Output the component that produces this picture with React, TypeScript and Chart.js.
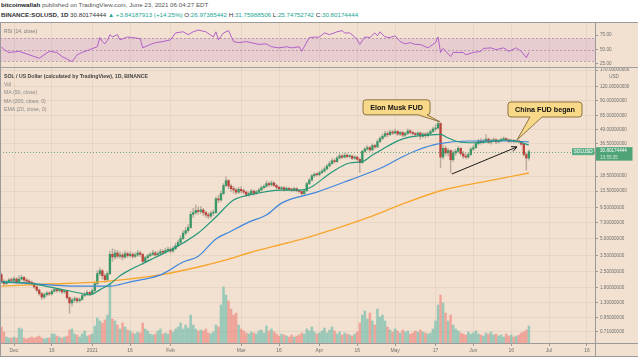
import React, { useEffect, useRef } from "react";
import { Chart, registerables } from "chart.js";
Chart.register(...registerables);

// ---------------- data ----------------
// day index relative to 1 Dec 2020 (first candle = 26 Nov 2020)
const firstDay = -5;
const firstOpen = 2.35;

const closes = [
  2.05, 1.95, 2.02, 2.10, 2.08, 2.15, 2.02, 2.14, 2.22, 2.10,
  2.05, 2.00, 1.95, 1.82, 1.70, 1.58, 1.47, 1.55, 1.60, 1.57,
  1.66, 1.72, 1.68, 1.70, 1.64, 1.66, 1.45, 1.30, 1.38, 1.42,
  1.36, 1.40, 1.52, 1.56, 1.62, 1.58, 1.68, 1.95, 2.40, 2.55,
  2.30, 2.12, 2.40, 3.60, 3.40, 3.70, 3.45, 3.55, 3.40, 3.65,
  3.50, 3.60, 3.45, 3.55, 3.70, 3.60, 3.10, 3.35, 3.50, 3.60,
  3.70, 3.55, 3.65, 3.80, 3.75, 3.90, 4.00, 3.85, 4.05, 4.30,
  4.60, 5.00, 5.60, 5.90, 6.30, 8.30, 8.60, 9.00, 8.80, 9.10,
  8.60, 8.20, 8.00, 8.50, 8.60, 11.50, 11.20, 12.80, 15.20, 16.80,
  15.00, 14.20, 13.80, 13.20, 14.00, 13.60, 13.20, 12.60, 12.80, 13.50,
  12.90, 13.30, 13.80, 14.50, 14.90, 15.80, 15.40, 16.00, 15.20, 14.60,
  14.20, 14.50, 13.90, 14.30, 14.00, 13.80, 14.20, 13.60, 13.40, 12.80,
  13.60, 15.80, 17.00, 18.60, 19.20, 19.00, 19.80, 20.50, 21.50, 22.80,
  24.00, 25.50, 25.00, 27.00, 28.20, 27.40, 28.60, 27.80, 28.00, 26.80,
  27.50, 26.20, 24.50, 31.00, 32.50, 33.50, 32.00, 35.00, 34.00, 38.00,
  40.50, 42.50, 45.00, 44.00, 46.50, 45.50, 47.00, 44.50, 46.00, 43.50,
  45.00, 47.50, 46.00, 45.00, 44.00, 45.50, 42.50, 44.50, 43.00, 45.00,
  47.00, 49.50, 50.50, 55.50, 27.50, 33.00, 30.00, 31.50, 26.00, 30.00,
  31.00, 33.00, 29.50, 28.00, 27.50, 29.00, 32.50, 33.50, 36.50, 38.50,
  37.50, 38.50, 40.00, 37.50, 38.80, 39.50, 37.80, 38.60, 39.80, 40.50,
  39.50, 38.20, 39.00, 38.00, 38.60, 37.80, 36.00, 29.00, 26.96, 30.80174444,
];

const highs = [
  2.42, 2.12, 2.08, 2.18, 2.20, 2.25, 2.20, 2.30, 2.32, 2.26,
  2.16, 2.12, 2.06, 2.00, 1.86, 1.74, 1.62, 1.60, 1.66, 1.64,
  1.72, 1.78, 1.76, 1.75, 1.73, 1.70, 1.68, 1.48, 1.44, 1.48,
  1.46, 1.45, 1.56, 1.62, 1.68, 1.66, 1.74, 2.02, 2.55, 2.70,
  2.62, 2.40, 2.50, 3.85, 4.05, 3.95, 3.90, 3.80, 3.70, 3.85,
  3.78, 3.80, 3.72, 3.70, 3.90, 3.85, 3.65, 3.45, 3.62, 3.75,
  3.90, 3.85, 3.80, 4.00, 3.95, 4.10, 4.20, 4.15, 4.25, 4.55,
  4.85, 5.30, 5.90, 6.30, 6.70, 8.80, 9.40, 10.10, 9.70, 9.80,
  9.40, 8.90, 8.60, 8.90, 9.10, 12.00, 12.40, 13.50, 15.80, 18.20,
  17.20, 15.60, 14.90, 14.40, 14.60, 14.80, 14.10, 13.60, 13.30, 14.00,
  13.80, 13.70, 14.30, 15.00, 15.40, 16.60, 16.40, 16.70, 16.40, 15.60,
  15.00, 14.90, 14.80, 14.70, 14.60, 14.40, 14.60, 14.50, 13.90, 13.60,
  14.00, 16.20, 17.60, 19.20, 19.80, 19.80, 20.40, 21.30, 22.40, 23.60,
  25.20, 26.60, 26.50, 28.00, 29.50, 29.00, 29.80, 29.40, 28.90, 28.60,
  28.40, 28.00, 26.80, 31.80, 33.80, 35.00, 34.40, 36.20, 36.00, 39.50,
  42.00, 44.50, 47.50, 47.00, 48.50, 48.00, 49.50, 48.00, 47.50, 47.00,
  46.50, 49.50, 49.00, 47.50, 46.20, 47.00, 46.50, 45.80, 46.00, 46.50,
  48.50, 51.50, 54.00, 58.50, 56.50, 35.50, 34.50, 33.00, 32.00, 31.50,
  32.50, 34.50, 33.50, 31.00, 29.50, 30.00, 33.50, 35.00, 37.80, 40.00,
  40.50, 40.00, 44.00, 41.00, 40.00, 41.00, 40.50, 39.80, 41.00, 42.00,
  41.20, 40.20, 40.00, 39.80, 39.50, 39.20, 38.50, 36.50, 29.80, 31.75988506,
];

const lows = [
  1.98, 1.88, 1.90, 1.97, 2.00, 2.02, 1.95, 1.98, 2.08, 2.02,
  1.98, 1.94, 1.88, 1.76, 1.64, 1.52, 1.40, 1.42, 1.50, 1.52,
  1.54, 1.62, 1.62, 1.63, 1.58, 1.59, 1.40, 1.05, 1.22, 1.32,
  1.30, 1.32, 1.38, 1.48, 1.52, 1.53, 1.55, 1.64, 1.90, 2.30,
  2.15, 2.00, 2.05, 2.35, 3.10, 3.25, 3.30, 3.30, 3.20, 3.30,
  3.35, 3.40, 3.30, 3.35, 3.45, 3.45, 2.90, 3.00, 3.25, 3.40,
  3.50, 3.45, 3.45, 3.55, 3.60, 3.65, 3.80, 3.70, 3.75, 3.95,
  4.20, 4.45, 4.90, 5.40, 5.70, 6.20, 7.80, 8.30, 8.30, 8.40,
  8.10, 7.80, 7.60, 7.70, 8.10, 8.50, 10.60, 10.90, 12.50, 14.80,
  14.20, 13.40, 12.90, 12.60, 12.80, 13.00, 12.70, 12.10, 12.10, 12.50,
  12.40, 12.60, 13.00, 13.50, 14.10, 14.60, 14.90, 15.00, 14.80, 14.20,
  13.70, 13.80, 13.50, 13.60, 13.60, 13.40, 13.50, 13.30, 13.00, 12.40,
  12.50, 13.40, 15.40, 16.60, 18.00, 18.40, 18.60, 19.40, 20.10, 21.00,
  22.40, 23.60, 24.20, 24.60, 26.40, 26.60, 27.00, 27.00, 27.00, 26.00,
  26.20, 25.60, 20.00, 24.00, 30.20, 31.60, 30.80, 31.40, 33.00, 33.50,
  37.20, 39.50, 41.60, 42.00, 43.00, 44.00, 44.50, 43.20, 43.00, 42.00,
  42.40, 44.20, 44.50, 43.60, 42.00, 42.80, 40.00, 41.50, 41.00, 42.00,
  44.00, 46.00, 47.50, 49.50, 22.00, 26.50, 28.50, 28.00, 19.80, 25.00,
  28.50, 30.00, 28.50, 26.80, 26.50, 26.80, 28.50, 31.50, 33.00, 35.50,
  36.00, 36.50, 37.50, 36.50, 36.00, 37.80, 36.50, 36.80, 37.80, 38.80,
  38.50, 37.20, 37.50, 37.00, 37.20, 36.80, 35.20, 28.00, 21.00, 25.74752742,
];

const volumes = [
  16, 11, 6, 5, 5, 6, 5, 15, 14, 5,
  4, 5, 6, 5, 6, 7, 5, 4, 5, 5,
  9, 9, 7, 6, 5, 6, 7, 13, 14, 9,
  8, 6, 9, 12, 7, 8, 9, 17, 25, 22,
  20, 23, 28, 60, 24, 22, 18, 14, 20, 16,
  13, 12, 10, 9, 11, 10, 20, 14, 12, 9,
  8, 9, 12, 14, 9, 10, 9, 13, 11, 14,
  16, 20, 14, 18, 15, 28, 18, 14, 12, 13,
  12, 14, 10, 9, 11, 18, 16, 38, 56, 48,
  42, 34, 28, 30, 18, 14, 12, 10, 9, 11,
  10, 9, 12, 13, 10, 17, 12, 14, 11, 9,
  7, 9, 8, 7, 6, 8, 6, 7, 8, 10,
  9, 14, 12, 16, 11, 9, 10, 12, 15, 10,
  13, 16, 12, 9, 11, 8, 10, 9, 8, 7,
  9, 11, 20, 28, 32, 24, 30, 22, 18, 34,
  26, 28, 22, 16, 13, 11, 14, 12, 10, 13,
  11, 12, 9, 10, 12, 11, 13, 11, 10, 9,
  10, 14, 22, 38, 48, 40, 30, 22, 28, 18,
  14, 12, 10, 9, 8, 11, 9, 10, 12, 9,
  8, 7, 10, 9, 11, 8, 9, 7, 8, 6,
  9, 7, 8, 6, 7, 8, 10, 11, 13, 17,
];

const ema20Days = [-5, 6, 14, 26, 30, 34, 38, 42, 46, 54, 62, 67, 73, 80, 87, 93, 106, 113, 117, 126, 133, 138, 142, 146, 152, 157, 164, 169, 172, 176, 182, 188, 195, 200, 204];
const ema20Values = [2.02, 1.97, 1.82, 1.60, 1.54, 1.71, 1.93, 2.30, 2.60, 3.20, 3.94, 4.56, 5.61, 7.86, 11.2, 12.4, 13.8, 13.8, 14.4, 20.1, 24.3, 25.0, 28.7, 32.4, 38.6, 41.9, 43.6, 44.2, 41.0, 37.9, 37.1, 37.9, 39.3, 37.9, 35.4];

const ma50Days = [-5, 10, 22, 38, 46, 58, 67, 73, 80, 85, 93, 100, 106, 120, 133, 146, 153, 160, 168, 180, 195, 204];
const ma50Values = [2.02, 1.93, 1.85, 1.85, 2.02, 2.34, 3.06, 3.46, 4.96, 5.68, 7.05, 8.19, 10.5, 13.2, 17.0, 22.2, 27.0, 31.9, 36.2, 38.5, 38.5, 37.8];

const ma200Days = [-5, 14, 34, 46, 58, 73, 84, 93, 105, 113, 126, 141, 153, 170, 188, 204];
const ma200Values = [1.85, 1.93, 2.02, 2.15, 2.34, 2.76, 3.20, 3.70, 4.37, 4.86, 5.99, 7.86, 10.1, 13.8, 16.7, 19.7];

const rsiDays = [-5, -4, -2, 2, 6, 10, 14, 17, 19, 23, 25, 27, 30, 33, 34, 35, 36, 37, 38, 39, 41, 42, 45, 47, 50, 51, 54, 56, 59, 62, 64, 67, 69, 71, 73, 76, 79, 80, 81, 83, 85, 87, 89, 92, 94, 97, 100, 102, 105, 108, 110, 113, 114, 117, 121, 123, 125, 128, 130, 131, 133, 135, 136, 137, 139, 141, 143, 144, 145, 147, 149, 151, 153, 155, 157, 159, 161, 164, 166, 167, 168, 169, 170, 173, 174, 176, 178, 179, 182, 185, 186, 189, 191, 194, 196, 199, 201, 203, 204];
const rsiValues = [55, 50, 45, 47, 41, 35, 47, 45, 38, 29, 41, 45, 50, 55, 71, 64, 60, 66, 76, 72, 76, 67, 72, 71, 69, 53, 59, 62, 64, 67, 79, 81, 76, 81, 84, 81, 72, 81, 67, 79, 83, 64, 62, 64, 62, 59, 60, 55, 53, 55, 53, 55, 47, 71, 72, 79, 76, 81, 83, 79, 79, 72, 67, 59, 72, 71, 79, 74, 81, 72, 71, 74, 64, 60, 62, 59, 59, 53, 59, 62, 72, 45, 52, 38, 45, 45, 45, 41, 45, 47, 52, 53, 50, 53, 47, 53, 47, 36, 45];

const tickDays = [0, 15, 31, 46, 62, 90, 105, 121, 136, 151, 167, 182, 197, 212, 227];
const tickLabels = ["Dec", "16", "2021", "16", "Feb", "Mar", "16", "Apr", "16", "May", "17", "Jun", "16", "Jul", "16"];
const priceTicks = [170, 120, 90, 65, 49, 36.5, 18.5, 13.5, 9.5, 7, 5, 3.5, 2.5, 1.8, 1.3, 0.95, 0.71];
const rsiTicks = [25, 50, 75];
const rsiBand = [30, 70];
const rsiMid = 50;

const lastClose = 30.80174444;
const lastCloseLabel = "30.80174444";
const countdownLabel = "13:55:35";
const symbolLabel = "SOLUSD";
const currencyLabel = "USD";

const elonNote = { day: 168.8, price: 57.5, text: "Elon Musk FUD" };
const chinaNote = { day: 199.3, price: 39.3, text: "China FUD began" };
const arrowStart = { day: 173.5, price: 19.3 };
const arrowEnd = { day: 199.3, price: 34.0 };

// ---------------- style ----------------
const FONT = '"Liberation Sans", Arial, sans-serif';
const BG = "#f2e1d0";
const GRID = "rgba(120,95,70,0.08)";
const FRAME = "#9a9a9a";
const AXIS_TEXT = "#6f6f6f";
const UP = "#3a9868";
const DOWN = "#bb433b";
const WICK = "rgba(110,100,95,0.42)";
const VOL_UP = "rgba(38,166,154,0.42)";
const VOL_DOWN = "rgba(239,83,80,0.42)";
const TEAL = "#22a58f";

const X_MIN = -5.55;
const X_MAX = 230.2;
const Y_MIN = 0.5624;
const Y_MAX = 177.3;
const RSI_MIN = 18;
const RSI_MAX = 98;
const VOL_MAX = 275;

function hline(ctx: CanvasRenderingContext2D, x1: number, x2: number, y: number) {
  ctx.beginPath();
  ctx.moveTo(x1, y);
  ctx.lineTo(x2, y);
  ctx.stroke();
}
function vline(ctx: CanvasRenderingContext2D, x: number, y1: number, y2: number) {
  ctx.beginPath();
  ctx.moveTo(x, y1);
  ctx.lineTo(x, y2);
  ctx.stroke();
}

function drawCallout(
  ctx: CanvasRenderingContext2D,
  tipX: number, tipY: number,
  left: number, top: number, w: number, h: number,
  tailA: number, tailB: number, text: string
) {
  const r = 3;
  const right = left + w;
  const bottom = top + h;
  ctx.beginPath();
  ctx.moveTo(left + r, top);
  ctx.lineTo(right - r, top);
  ctx.arcTo(right, top, right, top + r, r);
  ctx.lineTo(right, bottom - r);
  ctx.arcTo(right, bottom, right - r, bottom, r);
  ctx.lineTo(tailB, bottom);
  ctx.lineTo(tipX, tipY);
  ctx.lineTo(tailA, bottom);
  ctx.lineTo(left + r, bottom);
  ctx.arcTo(left, bottom, left, bottom - r, r);
  ctx.lineTo(left, top + r);
  ctx.arcTo(left, top, left + r, top, r);
  ctx.closePath();
  ctx.fillStyle = "#f8d889";
  ctx.fill();
  ctx.strokeStyle = "#8d7443";
  ctx.lineWidth = 1;
  ctx.stroke();
  ctx.fillStyle = "#111";
  ctx.font = `bold 7.2px ${FONT}`;
  ctx.textAlign = "center";
  ctx.textBaseline = "middle";
  ctx.fillText(text, left + w / 2, top + h / 2 + 0.5);
}

const rsiDecor = {
  id: "rsiDecor",
  beforeDatasetsDraw(chart: any) {
    const { ctx, chartArea: a, scales } = chart;
    const yHi = scales.y.getPixelForValue(rsiBand[1]);
    const yLo = scales.y.getPixelForValue(rsiBand[0]);
    ctx.save();
    ctx.fillStyle = "rgba(175,105,200,0.17)";
    ctx.fillRect(a.left, yHi, a.right - a.left, yLo - yHi);
    ctx.strokeStyle = "rgba(140,105,140,0.5)";
    ctx.setLineDash([2, 2]);
    ctx.lineWidth = 1;
    for (const v of [rsiBand[1], rsiMid, rsiBand[0]]) {
      hline(ctx, a.left, a.right, Math.round(scales.y.getPixelForValue(v)) + 0.5);
    }
    ctx.restore();
  },
  afterDraw(chart: any) {
    const { ctx, width, height, chartArea: a } = chart;
    ctx.save();
    ctx.strokeStyle = FRAME;
    ctx.lineWidth = 1;
    hline(ctx, 0, width, 0.5);
    vline(ctx, 0.5, 0, height);
    vline(ctx, a.right + 0.5, 0, height);
    ctx.strokeStyle = "#a0a0a0";
    hline(ctx, 0, width, height - 0.5);
    ctx.restore();
  },
};

const mainDecor = {
  id: "mainDecor",
  afterDatasetsDraw(chart: any) {
    const { ctx, chartArea: a, scales } = chart;
    const y = Math.round(scales.y.getPixelForValue(lastClose)) + 0.5;
    ctx.save();
    ctx.strokeStyle = "rgba(60,140,100,0.7)";
    ctx.setLineDash([1, 2]);
    ctx.lineWidth = 1;
    hline(ctx, a.left, a.right, y);
    ctx.restore();
  },
  afterDraw(chart: any) {
    const { ctx, width, height, chartArea: a, scales } = chart;
    const xs = scales.x;
    const ys = scales.y;
    ctx.save();

    // arrow
    const ax = xs.getPixelForValue(arrowStart.day);
    const ay = ys.getPixelForValue(arrowStart.price);
    const bx = xs.getPixelForValue(arrowEnd.day);
    const by = ys.getPixelForValue(arrowEnd.price);
    ctx.strokeStyle = "#1a1a1a";
    ctx.lineWidth = 1;
    ctx.beginPath();
    ctx.moveTo(ax, ay);
    ctx.lineTo(bx, by);
    const ang = Math.atan2(by - ay, bx - ax);
    for (const s of [-1, 1]) {
      ctx.moveTo(bx, by);
      ctx.lineTo(bx - 6 * Math.cos(ang + s * 0.45), by - 6 * Math.sin(ang + s * 0.45));
    }
    ctx.stroke();

    // callouts
    const ex = xs.getPixelForValue(elonNote.day);
    const ey = ys.getPixelForValue(elonNote.price);
    drawCallout(ctx, ex, ey, ex - 77, ey - 22, 67, 15, ex - 22, ex - 13, elonNote.text);
    const cx = xs.getPixelForValue(chinaNote.day);
    const cy = ys.getPixelForValue(chinaNote.price);
    drawCallout(ctx, cx, cy, cx - 9, cy - 38, 74, 15, cx + 13, cx + 25, chinaNote.text);

    // price tags
    const py = ys.getPixelForValue(lastClose);
    ctx.fillStyle = "#4ea377";
    ctx.fillRect(a.right + 0.5, py - 4.5, 37, 13.5);
    ctx.fillStyle = "#fff";
    ctx.font = `4.6px ${FONT}`;
    ctx.textAlign = "left";
    ctx.textBaseline = "middle";
    ctx.fillText(lastCloseLabel, a.right + 5, py - 0.5);
    ctx.fillStyle = "rgba(255,255,255,0.75)";
    ctx.fillText(countdownLabel, a.right + 5, py + 5.8);
    ctx.fillStyle = "#5cae84";
    ctx.fillRect(a.right - 23, py - 3.5, 22.5, 7);
    ctx.fillStyle = "#fff";
    ctx.textAlign = "center";
    ctx.fillText(symbolLabel, a.right - 11.8, py);

    // currency label
    ctx.fillStyle = AXIS_TEXT;
    ctx.font = `4.6px ${FONT}`;
    ctx.fillText(currencyLabel, a.right + 19, a.top + 8.5);

    // frame
    ctx.strokeStyle = FRAME;
    ctx.lineWidth = 1;
    vline(ctx, 0.5, 0, height);
    vline(ctx, a.right + 0.5, 0, height);
    hline(ctx, 0, width, a.bottom + 0.5);
    hline(ctx, 0, width, height - 0.5);
    ctx.restore();
  },
};

export default function App() {
  const rsiRef = useRef<HTMLCanvasElement>(null);
  const mainRef = useRef<HTMLCanvasElement>(null);

  useEffect(() => {
    document.body.style.margin = "0";
    const opens = closes.map((c, i) => (i === 0 ? firstOpen : closes[i - 1]));
    const days = closes.map((_, i) => firstDay + i);
    const up = closes.map((c, i) => c >= opens[i]);

    const xGridBase = {
      type: "linear" as const,
      min: X_MIN,
      max: X_MAX,
      offset: false,
      afterBuildTicks: (s: any) => {
        s.ticks = tickDays.map((v) => ({ value: v }));
      },
    };

    const rsiChart = new Chart(rsiRef.current!, {
      type: "line",
      data: {
        datasets: [
          {
            data: rsiDays.map((d, i) => ({ x: d, y: rsiValues[i] })),
            borderColor: "#b25fc9",
            borderWidth: 1,
            pointRadius: 0,
            tension: 0,
          },
        ],
      },
      options: {
        animation: false,
        responsive: false,
        events: [],
        layout: { padding: 0 },
        plugins: { legend: { display: false }, tooltip: { enabled: false } },
        scales: {
          x: {
            ...xGridBase,
            ticks: { display: false },
            grid: { color: GRID, drawTicks: false, offset: false },
            border: { display: false },
            afterFit: (s: any) => {
              s.height = 0;
              s.paddingLeft = 0;
              s.paddingRight = 0;
            },
          },
          y: {
            type: "linear",
            position: "right",
            min: RSI_MIN,
            max: RSI_MAX,
            afterBuildTicks: (s: any) => {
              s.ticks = rsiTicks.map((v) => ({ value: v }));
            },
            ticks: {
              callback: (v: any) => Number(v).toFixed(2),
              font: { family: FONT, size: 4.6 },
              color: AXIS_TEXT,
              padding: 2,
            },
            grid: { drawOnChartArea: false, tickLength: 3, tickColor: "#999" },
            border: { color: FRAME },
            afterFit: (s: any) => {
              s.width = 43;
              s.paddingTop = 0;
              s.paddingBottom = 0;
            },
          },
        },
      },
      plugins: [rsiDecor],
    } as any);

    const mainChart = new Chart(mainRef.current!, {
      type: "bar",
      data: {
        datasets: [
          {
            type: "line",
            data: ema20Days.map((d, i) => ({ x: d, y: ema20Values[i] })),
            borderColor: "#23977a",
            borderWidth: 1.2,
            pointRadius: 0,
            cubicInterpolationMode: "monotone",
            yAxisID: "y",
            order: 0,
          },
          {
            type: "line",
            data: ma50Days.map((d, i) => ({ x: d, y: ma50Values[i] })),
            borderColor: "#3f86dc",
            borderWidth: 1.2,
            pointRadius: 0,
            cubicInterpolationMode: "monotone",
            yAxisID: "y",
            order: 0,
          },
          {
            type: "line",
            data: ma200Days.map((d, i) => ({ x: d, y: ma200Values[i] })),
            borderColor: "#f7a62d",
            borderWidth: 1.4,
            pointRadius: 0,
            cubicInterpolationMode: "monotone",
            yAxisID: "y",
            order: 0,
          },
          {
            type: "bar",
            data: days.map((d, i) => ({ x: d, y: [opens[i], closes[i]] })),
            backgroundColor: up.map((u) => (u ? UP : DOWN)),
            barThickness: 1.7,
            minBarLength: 1,
            grouped: false,
            yAxisID: "y",
            order: 1,
          },
          {
            type: "bar",
            data: days.map((d, i) => ({ x: d, y: [lows[i], highs[i]] })),
            backgroundColor: WICK,
            barThickness: 0.8,
            grouped: false,
            yAxisID: "y",
            order: 2,
          },
          {
            type: "bar",
            data: days.map((d, i) => ({ x: d, y: volumes[i] })),
            backgroundColor: up.map((u) => (u ? VOL_UP : VOL_DOWN)),
            barThickness: 1.9,
            grouped: false,
            yAxisID: "vol",
            order: 3,
          },
        ],
      },
      options: {
        animation: false,
        responsive: false,
        events: [],
        layout: { padding: 0 },
        plugins: { legend: { display: false }, tooltip: { enabled: false } },
        scales: {
          x: {
            ...xGridBase,
            ticks: {
              callback: (_v: any, i: number) => tickLabels[i],
              autoSkip: false,
              maxRotation: 0,
              font: { family: FONT, size: 5 },
              color: AXIS_TEXT,
              padding: 1.5,
            },
            grid: { color: GRID, tickColor: "#9a9a9a", tickLength: 3, offset: false },
            border: { color: FRAME },
            afterFit: (s: any) => {
              s.height = 14;
              s.paddingLeft = 0;
              s.paddingRight = 0;
            },
          },
          y: {
            type: "logarithmic",
            position: "right",
            min: Y_MIN,
            max: Y_MAX,
            afterBuildTicks: (s: any) => {
              s.ticks = priceTicks.map((v) => ({ value: v }));
            },
            ticks: {
              callback: (v: any) => Number(v).toFixed(8),
              autoSkip: false,
              font: { family: FONT, size: 4.6 },
              color: AXIS_TEXT,
              padding: 2,
            },
            grid: { color: GRID, tickColor: "#9a9a9a", tickLength: 3 },
            border: { color: FRAME },
            afterFit: (s: any) => {
              s.width = 43;
              s.paddingTop = 0;
              s.paddingBottom = 0;
            },
          },
          vol: {
            type: "linear",
            display: false,
            min: 0,
            max: VOL_MAX,
          },
        },
      },
      plugins: [mainDecor],
    } as any);

    return () => {
      rsiChart.destroy();
      mainChart.destroy();
    };
  }, []);

  const tealSpan = (t: string) => <span style={{ color: TEAL }}>{t}</span>;

  return (
    <div
      style={{
        position: "fixed",
        left: 0,
        top: 0,
        width: 638,
        height: 357,
        background: "#fff",
        overflow: "hidden",
        fontFamily: FONT,
      }}
    >
      <div style={{ position: "absolute", left: 1, top: 1, fontSize: 6.2, lineHeight: "8px", color: "#555", whiteSpace: "nowrap" }}>
        <b style={{ color: "#222" }}>bitcoinwallah</b> published on TradingView.com, June 23, 2021 06:04:27 EDT
      </div>
      <div style={{ position: "absolute", left: 1, top: 11, fontSize: 6.2, lineHeight: "8px", color: "#333", whiteSpace: "nowrap" }}>
        <b>BINANCE:SOLUSD, 1D</b> 30.80174444 {tealSpan("▲ +3.84187913 (+14.25%)")} O:{tealSpan("26.97385442")} H:{tealSpan("31.75988506")} L:{tealSpan("25.74752742")} C:{tealSpan("30.80174444")}
      </div>
      <div style={{ position: "absolute", left: 0, top: 22, width: 638, height: 335, background: BG }} />
      <canvas ref={rsiRef} width={638} height={46} style={{ position: "absolute", left: 0, top: 22, width: 638, height: 46 }} />
      <canvas ref={mainRef} width={638} height={289} style={{ position: "absolute", left: 0, top: 68, width: 638, height: 289 }} />
      <div style={{ position: "absolute", left: 4, top: 28, fontSize: 5, lineHeight: "6px", color: "#7a7a7a", whiteSpace: "nowrap" }}>
        RSI (14, close)
      </div>
      <div style={{ position: "absolute", left: 4, top: 72, fontSize: 5.2, lineHeight: "8.2px", color: "#8a8a8a", whiteSpace: "nowrap" }}>
        <div style={{ color: "#444", fontWeight: "bold" }}>SOL / US Dollar (calculated by TradingView), 1D, BINANCE</div>
        <div>Vol</div>
        <div>MA (50, close)</div>
        <div>MA (200, close, 0)</div>
        <div>EMA (20, close, 0)</div>
      </div>
    </div>
  );
}
